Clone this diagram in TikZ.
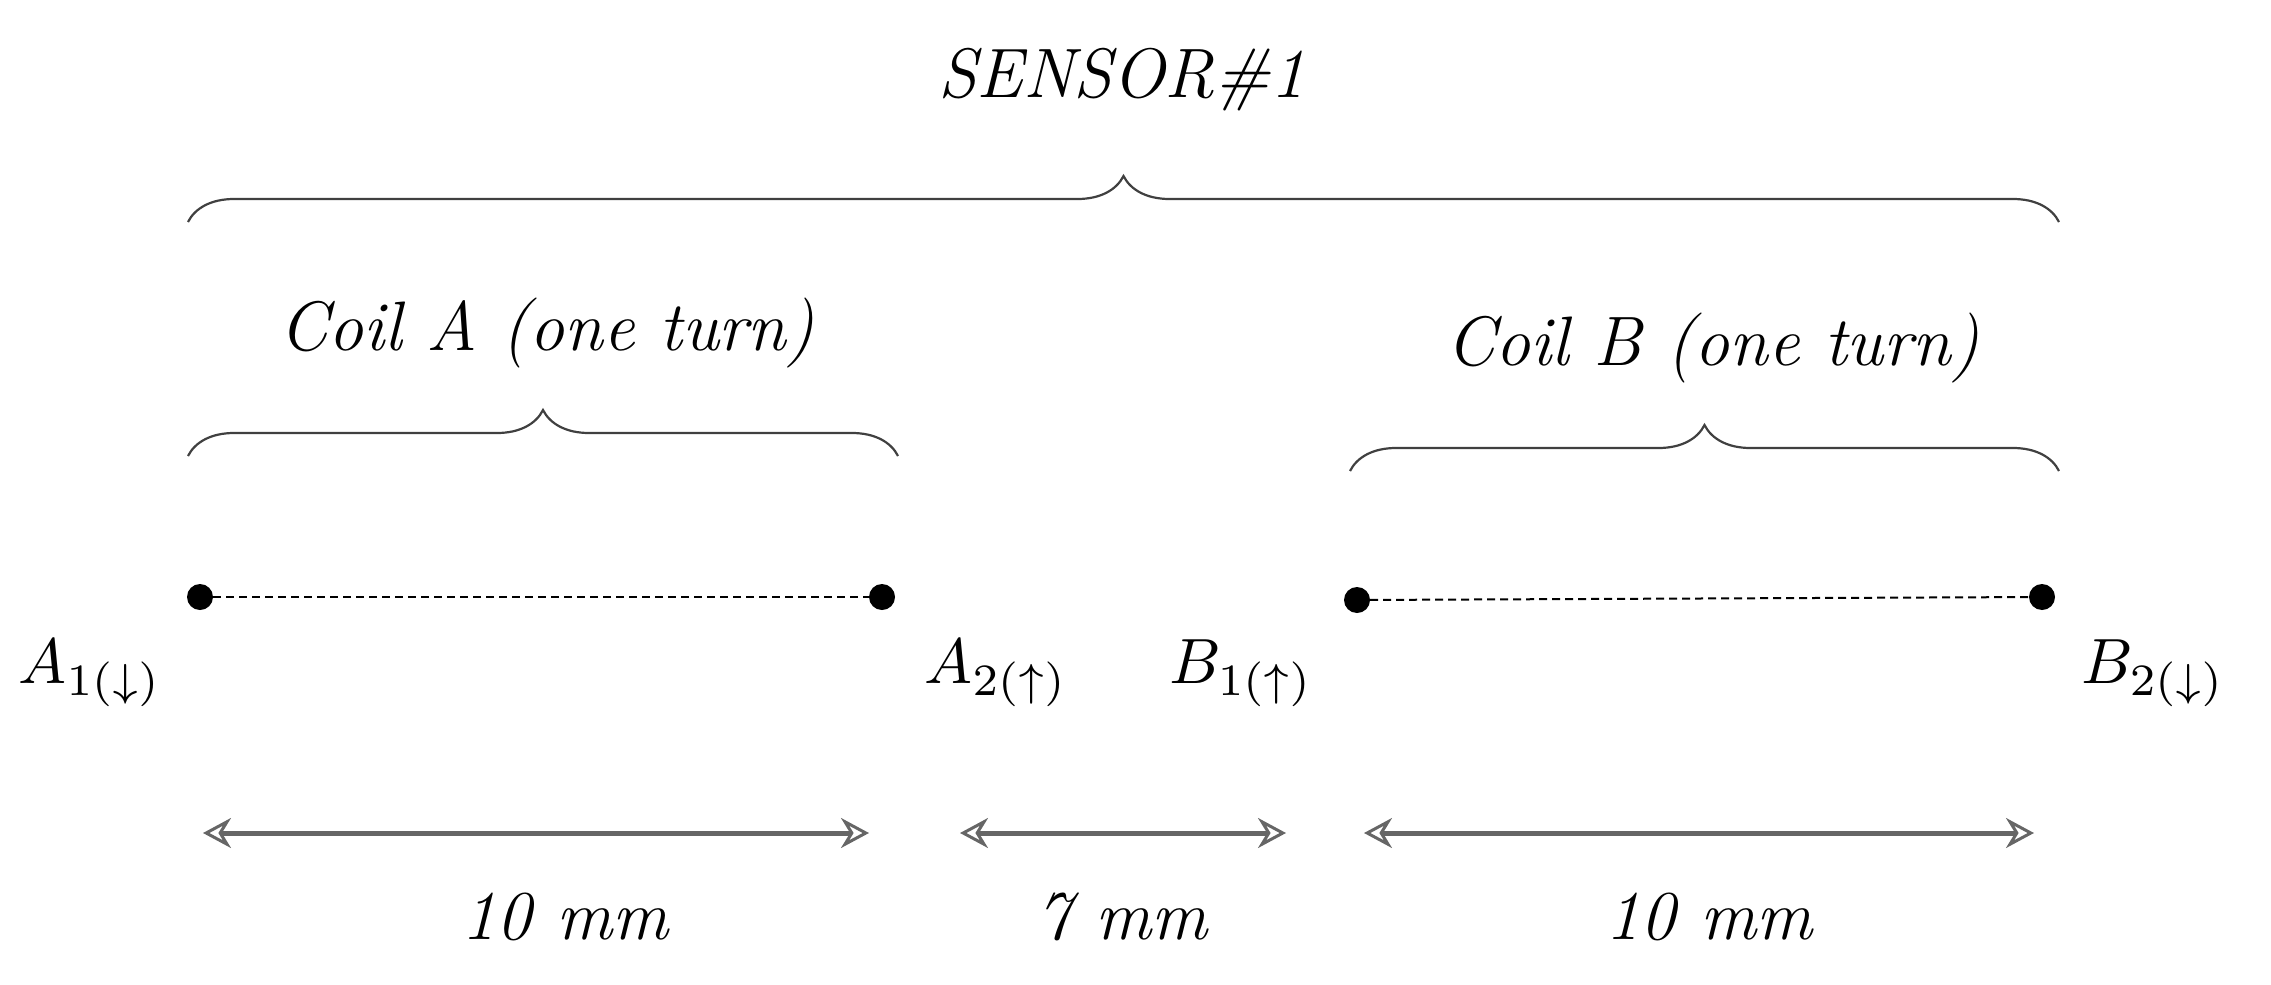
\documentclass[tikz,border=0pt]{standalone}
\usetikzlibrary{decorations.pathreplacing,arrows.meta}
\begin{document}
\begin{tikzpicture}[x=1pt,y=-1pt,
  br/.style={decorate,decoration={brace,amplitude=46pt,aspect=0.5},line width=2.2pt,draw=black!75},
  txt/.style={font=\fontsize{70}{80}\selectfont\itshape},
  lab/.style={scale=6.4},
  dot/.style={circle,fill=black,inner sep=0pt,minimum size=26pt},
  dim/.style={{Stealth[open,length=28pt,width=30pt,line width=3pt]}-{Stealth[open,length=28pt,width=30pt,line width=3pt]},line width=5pt,draw=black!60}]
\useasboundingbox (0,0) rectangle (2271,985);
\draw[br] (188,222) -- (2059,222);
\node[txt] (s) at (1122,80) {SENSOR\#1};
\draw[br] (188,456) -- (898,456);
\node[txt] (ca) at (547,333) {Coil A (one turn)};
\draw[br] (1350,471) -- (2059,471);
\node[txt] (cb) at (1713,348) {Coil B (one turn)};
\node[dot] (a1) at (200,597) {};
\node[dot] (a2) at (882,597) {};
\node[dot] (b1) at (1357,600) {};
\node[dot] (b2) at (2042,597) {};
\draw[line width=2pt,dash pattern=on 8pt off 5pt] (a1) -- (a2);
\draw[line width=2pt,dash pattern=on 8pt off 5pt] (b1) -- (b2);
\node[lab] (la1) at (90,673) {$A_{1(\downarrow)}$};
\node[lab] (la2) at (996,673) {$A_{2(\uparrow)}$};
\node[lab] (lb1) at (1241,673) {$B_{1(\uparrow)}$};
\node[lab] (lb2) at (2153,673) {$B_{2(\downarrow)}$};
\coordinate (d1a) at (203,833); \coordinate (d1b) at (869,833);
\coordinate (d2a) at (960,833); \coordinate (d2b) at (1286,833);
\coordinate (d3a) at (1364,833); \coordinate (d3b) at (2034,833);
\draw[dim] (d1a) -- (d1b);
\draw[dim] (d2a) -- (d2b);
\draw[dim] (d3a) -- (d3b);
\node[txt] (m1) at (565,917) {10 mm};
\node[txt] (m2) at (1122,917) {7 mm};
\node[txt] (m3) at (1709,917) {10 mm};
\end{tikzpicture}
\end{document}
